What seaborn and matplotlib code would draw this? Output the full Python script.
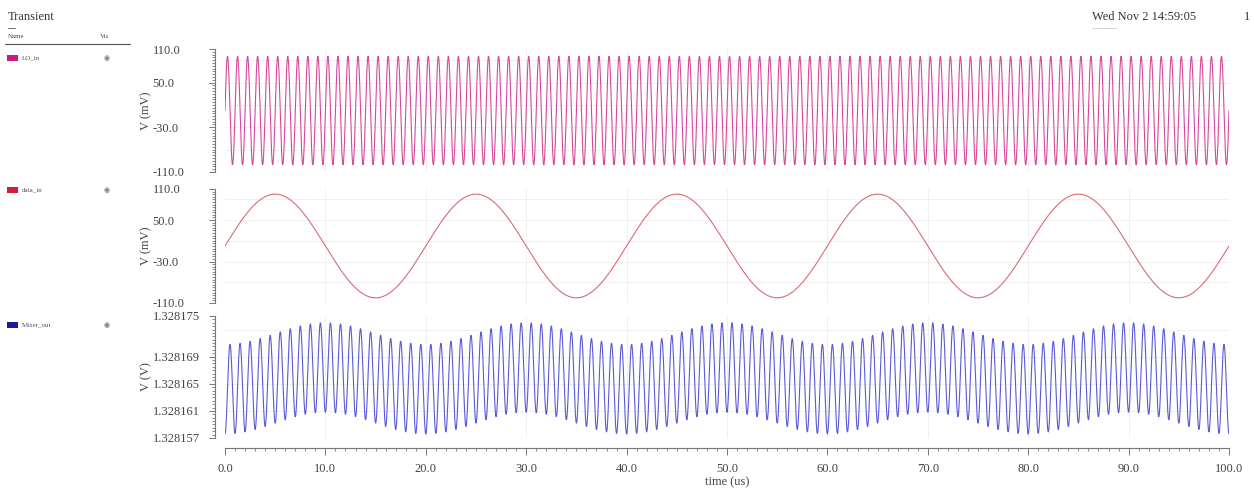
import matplotlib
matplotlib.use("Agg")
import matplotlib.pyplot as plt
from matplotlib.patches import Rectangle
from matplotlib.lines import Line2D
import numpy as np
import pandas as pd
import seaborn as sns

# --- values ---
SIGNALS = ["LO_in", "data_in", "Mixer_out"]
SWATCH_COLORS = ["#cc1a7a", "#d81a3a", "#1a1aa0"]
TRACE_COLORS = ["#d8489a", "#dc6a78", "#5a5ad8"]
FREQ_MHZ = [1.0, 0.05, 1.0]          # LO: 100 cycles / 100 us, data: 5 cycles
AMPLITUDE = [97.0, 100.0, 6.6e-6]    # mV, mV, V
OFFSET = [0.0, 0.0, 1.3281658]       # V for Mixer_out
MIX_SHIFT_V = [1.6e-6]               # slow swing of Mixer_out following data_in

MV_TICKS = [110.0, 50.0, -30.0, -110.0]
MV_LABELS = ["110.0", "50.0", "-30.0", "-110.0"]
MV_GRID = [-70.0, -30.0, 10.0, 50.0, 90.0]
V_TICKS = [1.328175, 1.328169, 1.328165, 1.328161, 1.328157]
V_LABELS = ["1.328175", "1.328169", "1.328165", "1.328161", "1.328157"]
V_GRID = [1.328161, 1.328165, 1.328169, 1.328173]
X_TICKS = [0, 10, 20, 30, 40, 50, 60, 70, 80, 90, 100]
X_LABELS = ["0.0", "10.0", "20.0", "30.0", "40.0", "50.0", "60.0",
            "70.0", "80.0", "90.0", "100.0"]

W, H = 1254, 495
time_us = np.linspace(0, 100, 20001)

lo = AMPLITUDE[0] * np.sin(2 * np.pi * FREQ_MHZ[0] * time_us)
data = AMPLITUDE[1] * np.sin(2 * np.pi * FREQ_MHZ[1] * time_us)
mix = (OFFSET[2] - MIX_SHIFT_V[0] * np.cos(2 * np.pi * FREQ_MHZ[1] * time_us)
       - AMPLITUDE[2] * np.cos(2 * np.pi * FREQ_MHZ[2] * time_us))
df = pd.DataFrame({"time": time_us, "LO_in": lo, "data_in": data, "Mixer_out": mix})

sns.set_style("white")
plt.rcParams["font.family"] = ["Liberation Serif", "DejaVu Serif"]

fig = plt.figure(figsize=(W / 100, H / 100), dpi=100)


def px_rect(x0, y0, x1, y1):
    return [x0 / W, 1 - y1 / H, (x1 - x0) / W, (y1 - y0) / H]


panels = [(49, 172), (189, 303), (316, 438)]
ylims = [(-110, 110), (-110, 110), (1.328157, 1.328175)]
axes = []
for i, (y0, y1) in enumerate(panels):
    ax = fig.add_axes(px_rect(225, y0, 1229, y1))
    sns.lineplot(data=df, x="time", y=SIGNALS[i], ax=ax, color=TRACE_COLORS[i],
                 linewidth=0.8, estimator=None, sort=False)
    ax.set_xlim(0, 100)
    ax.set_ylim(*ylims[i])
    for s in ["top", "right"]:
        ax.spines[s].set_visible(False)
    ax.spines["left"].set_position(("outward", 7.2))
    ax.spines["left"].set_color("#777777")
    ax.spines["left"].set_linewidth(0.8)
    # faint grid
    for gx in X_TICKS[1:-1]:
        ax.axvline(gx, color="#eeeeee", lw=0.6, zorder=0)
    for gy in (MV_GRID if i < 2 else V_GRID):
        ax.axhline(gy, color="#eeeeee", lw=0.6, zorder=0)
    if i < 2:
        ax.set_yticks(MV_TICKS, labels=MV_LABELS)
        ax.set_yticks(np.arange(-110, 111, 5), minor=True)
        ax.set_ylabel("V (mV)", fontsize=9, color="#444444")
    else:
        ax.set_yticks(V_TICKS, labels=V_LABELS)
        ax.set_yticks(np.linspace(1.328157, 1.328175, 37), minor=True)
        ax.set_ylabel("V (V)", fontsize=9, color="#444444")
    ax.yaxis.set_label_coords(-0.072, 0.5)
    ax.tick_params(axis="y", which="major", left=True, direction="out", length=4,
                   width=0.7, color="#777777", labelsize=9, labelcolor="#444444",
                   pad=41)
    ax.tick_params(axis="y", which="minor", left=True, direction="out", length=2.5,
                   width=0.6, color="#777777")
    plt.setp(ax.get_yticklabels(), ha="left")
    if i < 2:
        ax.spines["bottom"].set_visible(False)
        ax.set_xticks([])
        ax.set_xlabel("")
    else:
        ax.spines["bottom"].set_position(("outward", 7.2))
        ax.spines["bottom"].set_color("#777777")
        ax.spines["bottom"].set_linewidth(0.8)
        ax.set_xticks(X_TICKS, labels=X_LABELS)
        ax.set_xticks(np.arange(0, 101, 1), minor=True)
        ax.tick_params(axis="x", which="major", bottom=True, direction="out", length=5,
                       width=0.7, color="#777777", labelsize=9, labelcolor="#444444",
                       pad=6)
        ax.tick_params(axis="x", which="minor", bottom=True, direction="out",
                       length=2.5, width=0.6, color="#777777")
        ax.set_xlabel("time (us)", fontsize=9, color="#444444", labelpad=1)
    axes.append(ax)

# left legend panel
fig.text(8 / W, 1 - 17 / H, "Transient", fontsize=9, color="#333333", va="center")
fig.add_artist(Line2D([8 / W, 15 / W], [1 - 28 / H] * 2, color="#555555", lw=0.6))
fig.text(8 / W, 1 - 37 / H, "Name", fontsize=5, color="#444444", va="center")
fig.text(100 / W, 1 - 37 / H, "Vis", fontsize=5, color="#444444", va="center")
fig.add_artist(Line2D([5 / W, 130 / W], [1 - 44 / H] * 2, color="#555555", lw=0.8))
for name, col, y in zip(SIGNALS, SWATCH_COLORS, [58, 190, 325]):
    fig.add_artist(Rectangle((7 / W, 1 - (y + 3) / H), 11 / W, 6 / H,
                             facecolor=col, edgecolor="none"))
    fig.text(22 / W, 1 - y / H, name, fontsize=5, color="#555555", va="center")
    fig.text(107 / W, 1 - y / H, "\u25c9", fontsize=5, color="#777777",
             va="center", ha="center", family=["DejaVu Sans"])

# top right stamp
fig.text(1092 / W, 1 - 17 / H, "Wed Nov 2 14:59:05", fontsize=9, color="#333333",
         va="center")
fig.add_artist(Line2D([1092 / W, 1116 / W], [1 - 28 / H] * 2, color="#999999",
                      lw=0.6, ls=(0, (1, 1))))
fig.text(1244 / W, 1 - 17 / H, "1", fontsize=9, color="#333333", va="center")

fig.savefig("out.png", dpi=100, facecolor="white")
